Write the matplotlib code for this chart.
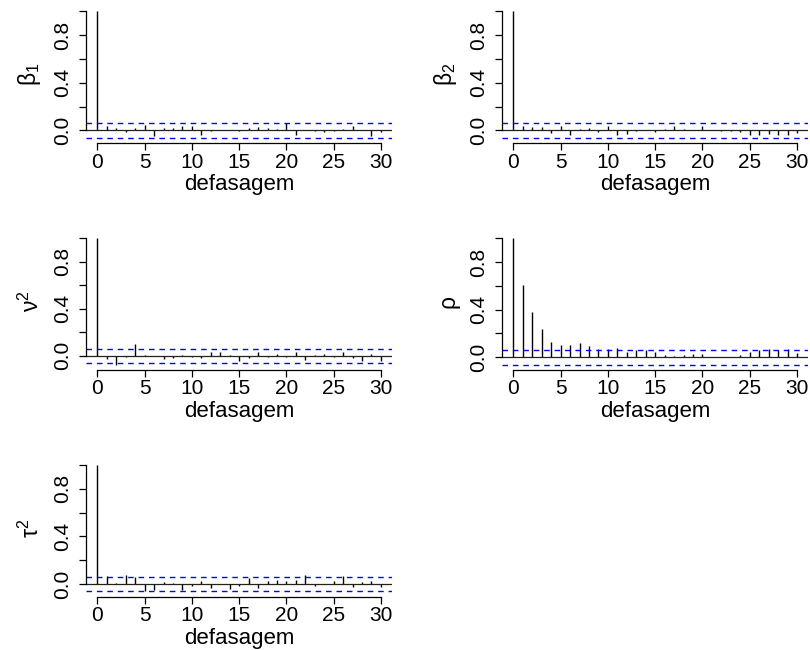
import matplotlib
matplotlib.use('Agg')
import matplotlib.pyplot as plt
import numpy as np

plt.rcParams['font.family'] = ['Liberation Sans', 'DejaVu Sans']
plt.rcParams['mathtext.fontset'] = 'custom'
plt.rcParams['mathtext.rm'] = 'Liberation Sans'

lags = np.arange(0, 31)
clim = 0.062

beta1 = [1.0, 0.035, 0.017, -0.017, 0.02, 0.045, -0.045, 0.02, 0.02, 0.038, 0.04,
         -0.04, -0.005, 0.005, 0.0, -0.005, 0.02, 0.03, 0.02, 0.015, 0.06,
         -0.035, 0.005, -0.005, -0.015, -0.005, 0.015, 0.035, 0.0, -0.05, -0.015]
beta2 = [1.0, 0.04, 0.03, 0.03, -0.02, 0.035, -0.04, 0.015, 0.02, -0.015, 0.04,
         -0.04, -0.03, -0.005, 0.005, -0.015, 0.015, 0.035, 0.015, 0.005, 0.04,
         0.0, -0.005, -0.005, -0.015, -0.04, -0.04, -0.03, -0.04, -0.04, -0.02]
nu2 = [1.0, -0.03, -0.075, -0.01, 0.1, 0.005, 0.0, -0.03, -0.02, 0.005, -0.01,
       -0.02, 0.03, 0.035, 0.005, -0.04, -0.02, 0.03, -0.01, 0.015, -0.01,
       0.035, -0.035, 0.005, 0.015, -0.01, 0.03, -0.02, -0.045, 0.015, -0.045]
rho = [1.0, 0.604, 0.38, 0.24, 0.13, 0.105, 0.105, 0.12, 0.095, 0.07, 0.07,
       0.08, 0.042, 0.06, 0.065, 0.045, 0.02, 0.01, 0.017, 0.03, 0.025,
       0.005, 0.005, 0.005, 0.017, 0.045, 0.06, 0.073, 0.065, 0.073, 0.04]
tau2 = [1.0, 0.07, 0.005, 0.075, 0.062, -0.055, -0.048, 0.014, 0.005, -0.048, -0.02,
        0.022, -0.034, 0.0, -0.042, -0.014, 0.05, -0.034, 0.022, 0.036, 0.022,
        0.036, 0.078, -0.02, 0.0, 0.03, 0.064, -0.025, 0.014, 0.03, -0.028]

series = [beta1, beta2, nu2, rho, tau2]
ylabels = ['β$_1$', 'β$_2$', 'ν$^2$', 'ρ', 'τ$^2$']

# plot regions in figure fractions (left, bottom)
positions = [(0.1062, 0.7803), (0.6198, 0.7803),
             (0.1062, 0.4312), (0.6198, 0.4312),
             (0.1062, 0.0823)]
w, h = 0.3781, 0.21

fig = plt.figure(figsize=(8.1, 6.5), dpi=100)

for vals, lab, (l, b) in zip(series, ylabels, positions):
    ax = fig.add_axes([l, b, w, h])
    vals = np.array(vals)
    ax.vlines(lags, 0, vals, color='black', linewidth=1)
    ax.axhline(0, color='#222222', linewidth=0.9)
    ax.axhline(clim, color='blue', linewidth=1, linestyle=(0, (4, 3.5)))
    ax.axhline(-clim, color='blue', linewidth=1, linestyle=(0, (4, 3.5)))

    lo = min(-clim, vals.min())
    hi = max(clim, vals.max())
    pad = 0.04 * (hi - lo)
    ax.set_ylim(lo - pad, hi + pad)
    ax.set_xlim(-1.2, 31.2)

    ax.spines['top'].set_visible(False)
    ax.spines['right'].set_visible(False)
    ax.spines['left'].set_bounds(0, 1)
    ax.spines['bottom'].set_bounds(0, 30)
    ax.spines['left'].set_linewidth(0.9)
    ax.spines['bottom'].set_linewidth(0.9)

    ax.set_xticks([0, 5, 10, 15, 20, 25, 30])
    ax.set_yticks([0, 0.2, 0.4, 0.6, 0.8, 1.0])
    ax.set_yticklabels(['0.0', '', '0.4', '', '0.8', ''])
    ax.tick_params(direction='out', length=5, width=0.9, labelsize=15)
    ax.tick_params(axis='x', pad=2)
    ax.tick_params(axis='y', pad=5, labelrotation=90)
    for t in ax.get_yticklabels():
        t.set_va('center')

    ax.set_xlabel('defasagem', fontsize=16, labelpad=2)
    ax.set_ylabel(lab, fontsize=16.5, labelpad=7)

plt.savefig('out.png', dpi=100)
plt.close()
